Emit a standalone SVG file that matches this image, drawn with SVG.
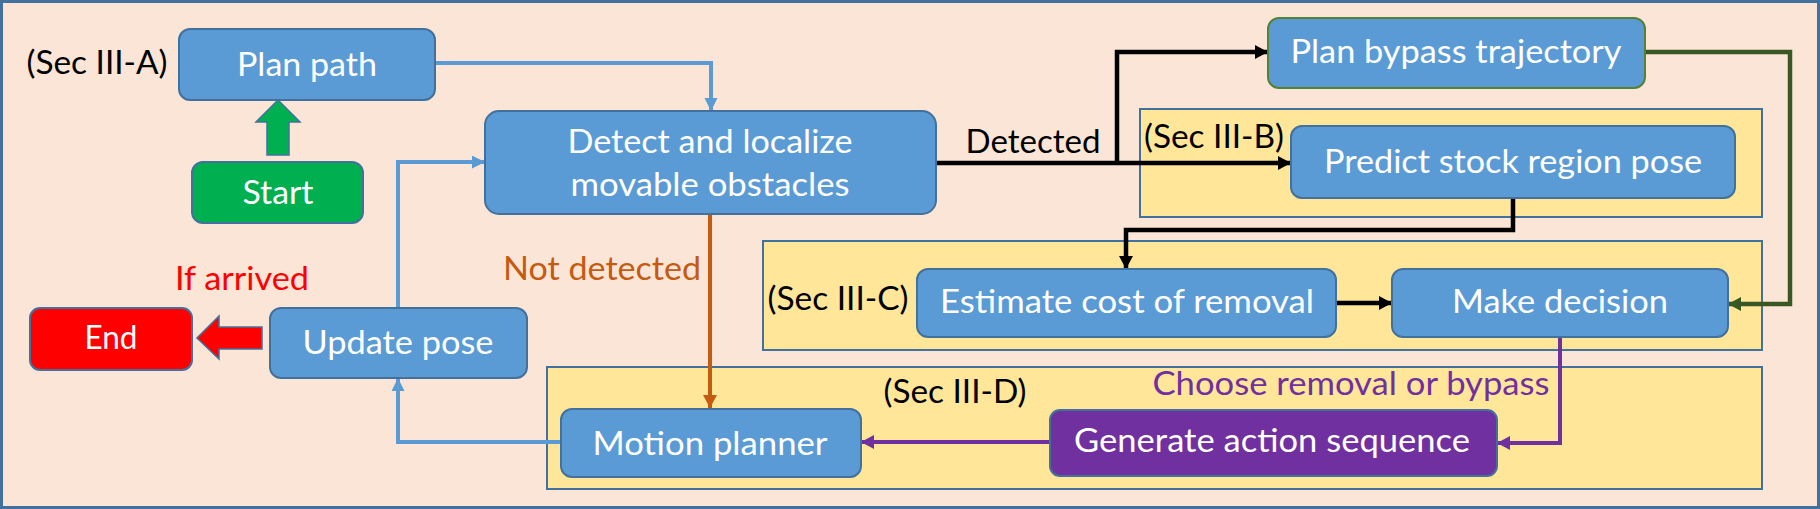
<svg xmlns="http://www.w3.org/2000/svg" width="1820" height="509" viewBox="0 0 1820 509">
<style>
text{font-family:Lato,"Liberation Sans",sans-serif;font-size:33px;text-anchor:middle}
.w{fill:#fff}
.k{fill:#000}
.box{fill:#5B9BD5;stroke:#41719C;stroke-width:2}
.sec{fill:#FFE699;stroke:#41719C;stroke-width:2}
.c{fill:none;stroke-linejoin:miter}
</style>
<defs>
<marker id="ab" markerUnits="userSpaceOnUse" markerWidth="15" markerHeight="15" refX="13" refY="6.5" orient="auto"><path d="M0,0 L13,6.5 L0,13 z" fill="#5B9BD5"/></marker>
<marker id="ak" markerUnits="userSpaceOnUse" markerWidth="15" markerHeight="15" refX="13" refY="7" orient="auto"><path d="M0,0 L13,7 L0,14 z" fill="#000"/></marker>
<marker id="ag" markerUnits="userSpaceOnUse" markerWidth="15" markerHeight="15" refX="13" refY="7" orient="auto"><path d="M0,0 L13,7 L0,14 z" fill="#385723"/></marker>
<marker id="ao" markerUnits="userSpaceOnUse" markerWidth="15" markerHeight="15" refX="13" refY="7" orient="auto"><path d="M0,0 L13,7 L0,14 z" fill="#C55A11"/></marker>
<marker id="ap" markerUnits="userSpaceOnUse" markerWidth="15" markerHeight="15" refX="13" refY="7" orient="auto"><path d="M0,0 L13,7 L0,14 z" fill="#7030A0"/></marker>
</defs>
<rect x="1.5" y="1.5" width="1817" height="506" fill="#FBE5D6" stroke="#41719C" stroke-width="3"/>
<g id="sections">
<rect class="sec" x="1140" y="109" width="622" height="108"/>
<rect class="sec" x="763" y="241" width="999" height="109"/>
<rect class="sec" x="547" y="367" width="1215" height="122"/>
</g>
<g id="connectors">
<path class="c" d="M435,63 H711 V111" stroke="#5B9BD5" stroke-width="4" marker-end="url(#ab)"/>
<path class="c" d="M398,308 V162 H485" stroke="#5B9BD5" stroke-width="4" marker-end="url(#ab)"/>
<path class="c" d="M561,442 H398 V378" stroke="#5B9BD5" stroke-width="4" marker-end="url(#ab)"/>
<path class="c" d="M710,214 V408" stroke="#C55A11" stroke-width="4" marker-end="url(#ao)"/>
<path class="c" d="M936,163 H1291" stroke="#000" stroke-width="4.5" marker-end="url(#ak)"/>
<path class="c" d="M1117,165 V52 H1268" stroke="#000" stroke-width="4.5" marker-end="url(#ak)"/>
<path class="c" d="M1513,198 V230 H1126 V269" stroke="#000" stroke-width="4.5" marker-end="url(#ak)"/>
<path class="c" d="M1336,303 H1392" stroke="#000" stroke-width="4.5" marker-end="url(#ak)"/>
<path class="c" d="M1645,52 H1790 V304 H1728" stroke="#385723" stroke-width="4.5" marker-end="url(#ag)"/>
<path class="c" d="M1560,337 V443 H1497" stroke="#7030A0" stroke-width="4" marker-end="url(#ap)"/>
<path class="c" d="M1050,442 H861" stroke="#7030A0" stroke-width="4" marker-end="url(#ap)"/>
<polygon points="267,155 267,122 256,122 278,100 300,122 289,122 289,155" fill="#00B050" stroke="#41719C" stroke-width="1.5"/>
<polygon points="262,327 219,327 219,316 197,338 219,359 219,349 262,349" fill="#FF0000" stroke="#41719C" stroke-width="1.5"/>
</g>
<g id="labels">
<text class="k" x="97" y="74" textLength="141" lengthAdjust="spacingAndGlyphs">(Sec III-A)</text>
<text class="k" x="1033" y="153" textLength="135" lengthAdjust="spacingAndGlyphs">Detected</text>
<text x="602" y="280" fill="#C55A11" textLength="198" lengthAdjust="spacingAndGlyphs">Not detected</text>
<text x="242" y="290" fill="#FF0000" textLength="134" lengthAdjust="spacingAndGlyphs">If arrived</text>
<text class="k" x="1214" y="148" textLength="140" lengthAdjust="spacingAndGlyphs">(Sec III-B)</text>
<text class="k" x="838" y="310" textLength="141" lengthAdjust="spacingAndGlyphs">(Sec III-C)</text>
<text class="k" x="955" y="403" textLength="143" lengthAdjust="spacingAndGlyphs">(Sec III-D)</text>
<text x="1351" y="395" fill="#7030A0" textLength="397" lengthAdjust="spacingAndGlyphs">Choose removal or bypass</text>
</g>
<g id="plan-path"><rect class="box" x="179" y="29" width="256" height="71" rx="11"/><text class="w" x="307" y="76" textLength="140" lengthAdjust="spacingAndGlyphs">Plan path</text></g>
<g id="start"><rect x="192" y="162" width="171" height="61" rx="11" fill="#00B050" stroke="#41719C" stroke-width="2"/><text class="w" x="278" y="204" textLength="71" lengthAdjust="spacingAndGlyphs">Start</text></g>
<g id="detect"><rect class="box" x="485" y="111" width="451" height="103" rx="14"/><text class="w" x="710" y="153" textLength="285" lengthAdjust="spacingAndGlyphs">Detect and localize</text><text class="w" x="710" y="196" textLength="279" lengthAdjust="spacingAndGlyphs">movable obstacles</text></g>
<g id="update-pose"><rect class="box" x="270" y="308" width="257" height="70" rx="11"/><text class="w" x="398" y="354" textLength="191" lengthAdjust="spacingAndGlyphs">Update pose</text></g>
<g id="end"><rect x="30" y="308" width="162" height="62" rx="10" fill="#FF0000" stroke="#41719C" stroke-width="2"/><text class="w" x="111" y="349" textLength="53" lengthAdjust="spacingAndGlyphs">End</text></g>
<g id="plan-bypass"><rect x="1268" y="18" width="377" height="70" rx="11" fill="#5B9BD5" stroke="#548235" stroke-width="2"/><text class="w" x="1456" y="63" textLength="331" lengthAdjust="spacingAndGlyphs">Plan bypass trajectory</text></g>
<g id="predict"><rect class="box" x="1291" y="126" width="444" height="72" rx="11"/><text class="w" x="1513" y="173" textLength="378" lengthAdjust="spacingAndGlyphs">Predict stock region pose</text></g>
<g id="estimate"><rect class="box" x="917" y="269" width="419" height="68" rx="11"/><text class="w" x="1127" y="313" textLength="374" lengthAdjust="spacingAndGlyphs">Estimate cost of removal</text></g>
<g id="make-decision"><rect class="box" x="1392" y="269" width="336" height="68" rx="11"/><text class="w" x="1560" y="313" textLength="216" lengthAdjust="spacingAndGlyphs">Make decision</text></g>
<g id="motion-planner"><rect class="box" x="561" y="409" width="300" height="68" rx="11"/><text class="w" x="710" y="455" textLength="235" lengthAdjust="spacingAndGlyphs">Motion planner</text></g>
<g id="generate"><rect x="1050" y="410" width="447" height="66" rx="10" fill="#7030A0" stroke="#41719C" stroke-width="2"/><text class="w" x="1272" y="452" textLength="396" lengthAdjust="spacingAndGlyphs">Generate action sequence</text></g>
</svg>
